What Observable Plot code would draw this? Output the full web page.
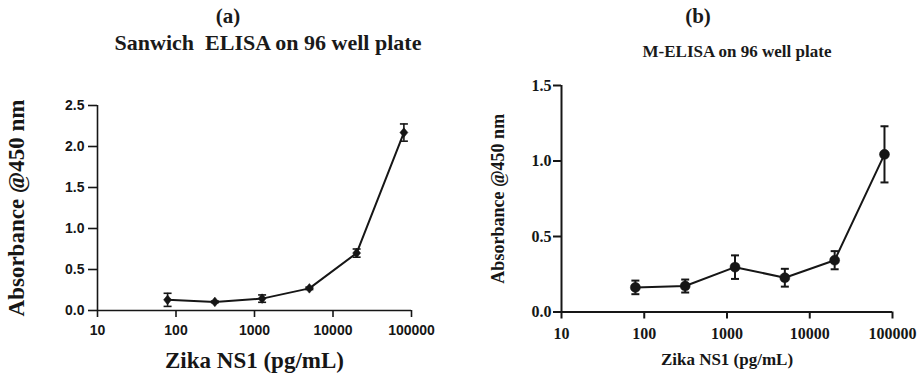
<!DOCTYPE html>
<html>
<head>
<meta charset="utf-8">
<script src="https://cdn.jsdelivr.net/npm/d3@7"></script>
<script src="https://cdn.jsdelivr.net/npm/@observablehq/plot@0.6"></script>
<style>
  html, body { margin: 0; padding: 0; background: #fff; }
  body { width: 921px; height: 374px; position: relative; overflow: hidden; }
  .ttl { position: absolute; font-family: "Liberation Serif", "Times New Roman", serif; font-weight: bold;
         color: #1a1a1a; white-space: pre; text-align: center; line-height: 1; }
  .panel { position: absolute; }
</style>
</head>
<body>
<div class="ttl" style="left:128px;width:200px;top:5.6px;font-size:21px;">(a)</div>
<div class="ttl" style="left:68px;width:400px;top:31.6px;font-size:22px;">Sanwich  ELISA on 96 well plate</div>
<div class="ttl" style="left:598px;width:200px;top:5.6px;font-size:21px;">(b)</div>
<div class="ttl" style="left:587px;width:300px;top:42.8px;font-size:17px;">M-ELISA on 96 well plate</div>
<div id="pa" class="panel" style="left:0;top:80px;"></div>
<div id="pb" class="panel" style="left:460px;top:70px;"></div>
<script>
// Zika NS1 concentrations (pg/mL), 4-fold serial dilution
const conc = [78.125, 312.5, 1250, 5000, 20000, 80000];
// (a) Sandwich ELISA absorbance @450 nm: mean and error
const sandwichMean = [0.13, 0.105, 0.145, 0.27, 0.70, 2.17];
const sandwichErr  = [0.08, 0.01, 0.045, 0.015, 0.05, 0.105];
// (b) M-ELISA absorbance @450 nm: mean and error
const melisaMean = [0.163, 0.172, 0.297, 0.227, 0.343, 1.044];
const melisaErr  = [0.045, 0.043, 0.078, 0.059, 0.06, 0.186];
// tick values
const xTicks = [10, 100, 1000, 10000, 100000];
const yTicksA = [0, 0.5, 1.0, 1.5, 2.0, 2.5];
const yTicksB = [0, 0.5, 1.0, 1.5];
const xLabel = "Zika NS1 (pg/mL)";
const yLabel = "Absorbance @450 nm";

const ink = "#161616";
const serif = "'Liberation Serif', 'Times New Roman', serif";
const sans = "'Liberation Sans', Arial, sans-serif";

const capSymbol = {
  draw(ctx, size) { const w = Math.sqrt(size / Math.PI); ctx.moveTo(-w, 0); ctx.lineTo(w, 0); }
};
const diamondSymbol = {
  draw(ctx, size) {
    const s = Math.sqrt(size / Math.PI);
    ctx.moveTo(0, -s * 1.2); ctx.lineTo(s, 0); ctx.lineTo(0, s * 1.2); ctx.lineTo(-s, 0); ctx.closePath();
  }
};

const dataA = conc.map((x, i) => ({x, y: sandwichMean[i], e: sandwichErr[i]}));
const dataB = conc.map((x, i) => ({x, y: melisaMean[i], e: melisaErr[i]}));

const fmt = d => String(d);
const fmtY = d => d3.format(".1f")(d);

const plotA = Plot.plot({
  width: 460, height: 294,
  marginLeft: 97, marginRight: 49, marginTop: 25, marginBottom: 64,
  style: {fontFamily: sans, color: ink, background: "transparent", overflow: "visible"},
  x: {type: "log", domain: [10, 100000]},
  y: {domain: [0, 2.5]},
  marks: [
    Plot.ruleY([0], {stroke: ink, strokeWidth: 1.6}),
    Plot.ruleX([10], {stroke: ink, strokeWidth: 1.6}),
    Plot.axisX({ticks: xTicks, tickFormat: fmt, tickSize: 7, tickPadding: 8, strokeWidth: 1.6,
      fontSize: 14, fontWeight: "bold", fontFamily: sans, label: null}),
    Plot.axisX({ticks: [], label: xLabel, labelAnchor: "center", labelArrow: "none", labelOffset: 57, dx: -5,
      fontSize: 23, fontWeight: "bold", fontFamily: serif}),
    Plot.axisY({ticks: yTicksA, tickFormat: fmtY, tickSize: 9, tickPadding: 4, strokeWidth: 1.6,
      fontSize: 14, fontWeight: "bold", fontFamily: sans, label: null}),
    Plot.axisY({ticks: [], label: yLabel, labelAnchor: "center", labelArrow: "none", labelOffset: 90,
      fontSize: 23, fontWeight: "bold", fontFamily: serif}),
    Plot.line(dataA, {x: "x", y: "y", stroke: ink, strokeWidth: 2}),
    Plot.ruleX(dataA, {x: "x", y1: d => d.y - d.e, y2: d => d.y + d.e, stroke: ink, strokeWidth: 1.6}),
    Plot.dot(dataA, {x: "x", y: d => d.y - d.e, symbol: capSymbol, r: 4, stroke: ink, strokeWidth: 1.6, fill: "none"}),
    Plot.dot(dataA, {x: "x", y: d => d.y + d.e, symbol: capSymbol, r: 4, stroke: ink, strokeWidth: 1.6, fill: "none"}),
    Plot.dot(dataA, {x: "x", y: "y", symbol: diamondSymbol, r: 4, fill: ink, stroke: ink, strokeWidth: 0.5})
  ]
});
document.getElementById("pa").append(plotA);

const plotB = Plot.plot({
  width: 461, height: 304,
  marginLeft: 101, marginRight: 29, marginTop: 15, marginBottom: 62.5,
  style: {fontFamily: serif, color: ink, background: "transparent", overflow: "visible"},
  x: {type: "log", domain: [10, 100000]},
  y: {domain: [0, 1.5]},
  marks: [
    Plot.ruleY([0], {stroke: ink, strokeWidth: 2}),
    Plot.ruleX([10], {stroke: ink, strokeWidth: 2}),
    Plot.axisX({ticks: xTicks, tickFormat: fmt, tickSize: 7, tickPadding: 9, strokeWidth: 2,
      fontSize: 16, fontWeight: "bold", fontFamily: serif, label: null}),
    Plot.axisX({ticks: [], label: xLabel, labelAnchor: "center", labelArrow: "none", labelOffset: 52.5,
      fontSize: 17, fontWeight: "bold", fontFamily: serif}),
    Plot.axisY({ticks: yTicksB, tickFormat: fmtY, tickSize: 8, tickPadding: 2, strokeWidth: 2,
      fontSize: 16, fontWeight: "bold", fontFamily: serif, label: null}),
    Plot.axisY({ticks: [], label: yLabel, labelAnchor: "center", labelArrow: "none", labelOffset: 70,
      fontSize: 18, fontWeight: "bold", fontFamily: serif}),
    Plot.line(dataB, {x: "x", y: "y", stroke: ink, strokeWidth: 2}),
    Plot.ruleX(dataB, {x: "x", y1: d => d.y - d.e, y2: d => d.y + d.e, stroke: ink, strokeWidth: 2}),
    Plot.dot(dataB, {x: "x", y: d => d.y - d.e, symbol: capSymbol, r: 4, stroke: ink, strokeWidth: 2, fill: "none"}),
    Plot.dot(dataB, {x: "x", y: d => d.y + d.e, symbol: capSymbol, r: 4, stroke: ink, strokeWidth: 2, fill: "none"}),
    Plot.dot(dataB, {x: "x", y: "y", r: 5, fill: ink, stroke: ink, strokeWidth: 0.5})
  ]
});
document.getElementById("pb").append(plotB);
</script>
</body>
</html>
